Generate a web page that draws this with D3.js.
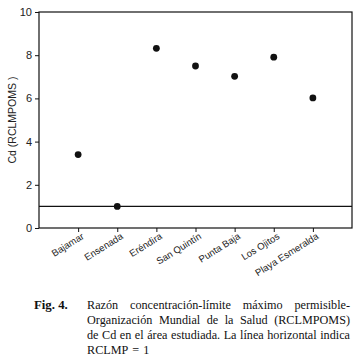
<!DOCTYPE html>
<html>
<head>
<meta charset="utf-8">
<script src="https://cdn.jsdelivr.net/npm/d3@7"></script>
<style>
body { margin: 0; background: #fff; }
</style>
</head>
<body>
<script>
var sites = ["Bajamar", "Ensenada", "Eréndira", "San Quintín", "Punta Baja", "Los Ojitos", "Playa Esmeralda"],
	cdValues = [3.4, 1.0, 8.32, 7.5, 7.02, 7.91, 6.02],
	yTicks = [0, 2, 4, 6, 8, 10],
	limitValue = 1;

var captionLines = [
	"Razón concentración-límite máximo permisible-",
	"Organización Mundial de la Salud (RCLMPOMS)",
	"de Cd en el área estudiada. La línea horizontal indica",
	"RCLMP = 1"
];

var margin = {top: 12, right: 8, bottom: 131, left: 39},
	width = 360 - margin.left - margin.right,
	height = 359 - margin.top - margin.bottom;

var x = d3.scaleLinear()
	.domain([0, sites.length + 1])
	.range([0, width]);

var y = d3.scaleLinear()
	.domain([0, 10])
	.range([height, 0]);

var svg = d3.select('body')
	.append('svg')
	.attr('width', 360)
	.attr('height', 359);

var main = svg.append('g')
	.attr('transform', 'translate(' + margin.left + ',' + margin.top + ')');

// frame
main.append('rect')
	.attr('width', width)
	.attr('height', height)
	.attr('fill', 'none')
	.attr('stroke', '#111')
	.attr('stroke-width', 1.2);

// y axis
var yAxis = d3.axisLeft(y)
	.tickValues(yTicks)
	.tickSize(4)
	.tickPadding(3);

main.append('g')
	.call(yAxis)
	.call(function(g) { g.select('.domain').remove(); })
	.call(function(g) {
		g.selectAll('line').attr('stroke', '#111');
		g.selectAll('text').attr('font-family', 'Liberation Sans, Arial, sans-serif')
			.attr('font-size', '11px').attr('fill', '#222');
	});

// x axis with rotated category labels
var xAxis = d3.axisBottom(x)
	.tickValues(d3.range(1, sites.length + 1))
	.tickSize(4)
	.tickFormat(function(d) { return sites[d - 1]; });

main.append('g')
	.attr('transform', 'translate(0,' + height + ')')
	.call(xAxis)
	.call(function(g) {
		g.select('.domain').remove();
		g.selectAll('line').attr('stroke', '#111');
		g.selectAll('text')
			.attr('font-family', 'Liberation Sans, Arial, sans-serif')
			.attr('font-size', '9.6px')
			.attr('fill', '#222')
			.attr('text-anchor', 'end')
			.attr('dy', null)
			.attr('y', 0)
			.attr('transform', 'translate(6,10) rotate(-32)');
	});

// limit line
main.append('line')
	.attr('x1', 0)
	.attr('x2', width)
	.attr('y1', y(limitValue))
	.attr('y2', y(limitValue))
	.attr('stroke', '#111')
	.attr('stroke-width', 1.2);

// points
main.append('g')
	.selectAll('circle')
	.data(cdValues)
	.enter().append('circle')
		.attr('cx', function(d, i) { return x(i + 1); })
		.attr('cy', function(d) { return y(d); })
		.attr('r', 3.4)
		.attr('fill', '#111');

// y axis title
svg.append('text')
	.attr('transform', 'translate(16,' + (margin.top + height / 2) + ') rotate(-90)')
	.attr('text-anchor', 'middle')
	.attr('font-family', 'Liberation Sans, Arial, sans-serif')
	.attr('font-size', '10.5px')
	.attr('fill', '#222')
	.text('Cd (RCLMPOMS )');

// caption
var cap = svg.append('g')
	.attr('font-family', 'Liberation Serif, Times New Roman, serif')
	.attr('font-size', '12.2px')
	.attr('fill', '#111');

cap.append('text')
	.attr('x', 34)
	.attr('y', 309)
	.attr('font-weight', 'bold')
	.attr('font-size', '12.8px')
	.text('Fig. 4.');

var capLeft = 87, capRight = 350, lineGap = 15;

captionLines.forEach(function(line, li) {
	var words = line.split(' ');
	var ty = 309 + li * lineGap;
	var nodes = words.map(function(w) {
		return cap.append('text').attr('y', ty).text(w);
	});
	var widths = nodes.map(function(n) { return n.node().getComputedTextLength(); });
	var total = d3.sum(widths);
	var justify = li < captionLines.length - 1;
	var gap = justify ? (capRight - capLeft - total) / (words.length - 1) : 4;
	var cx = capLeft;
	nodes.forEach(function(n, i) {
		n.attr('x', cx);
		cx += widths[i] + gap;
	});
});
</script>
</body>
</html>
